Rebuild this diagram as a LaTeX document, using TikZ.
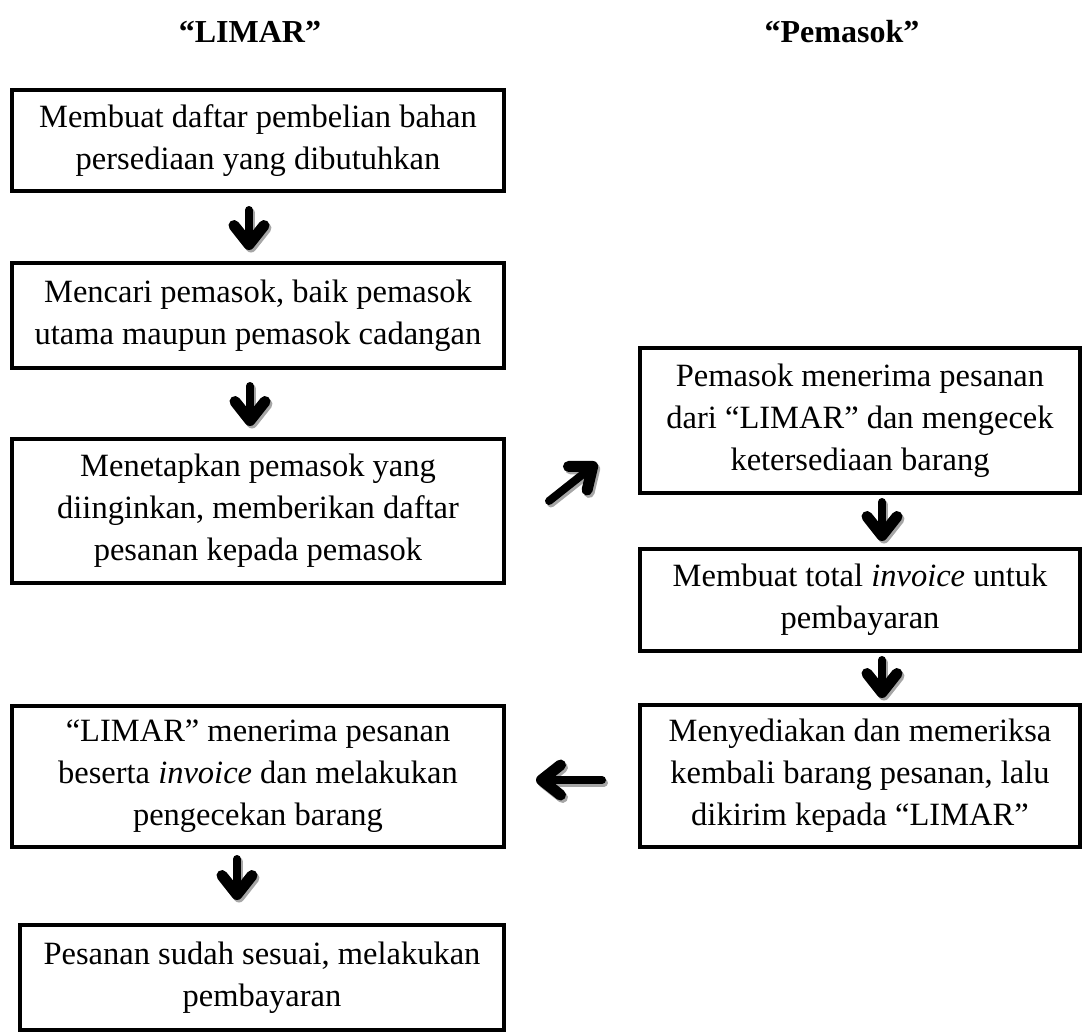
\documentclass[tikz,border=0pt]{standalone}
\usepackage{fontspec}
\setmainfont{Liberation Serif}
\usetikzlibrary{arrows.meta}
\begin{document}
\begin{tikzpicture}[x=1pt,y=-1pt,
  box/.style={draw, line width=4.5pt, align=center, inner sep=0pt,
    font=\fontsize{32.5}{42}\selectfont},
  hdr/.style={font=\fontsize{32}{38}\selectfont\bfseries},
  arr/.style={line width=8pt, line cap=round,
    -{Straight Barb[length=19pt 0 0,width=30pt 0,line width=11pt 0,round]}},
  arrsh/.style={arr, draw=black!35, transform canvas={xshift=2pt,yshift=-2.5pt}}]
\useasboundingbox (0,0) rectangle (1087,1036);

\node[hdr] (hL) at (250,32) {“LIMAR”};
\node[hdr] (hP) at (842,32) {“Pemasok”};

\node[box, minimum width=492pt, minimum height=101pt] (b1) at (258,140.5)
  {Membuat daftar pembelian bahan\\persediaan yang dibutuhkan};
\node[box, minimum width=492pt, minimum height=105pt] (b2) at (258,315.5)
  {Mencari pemasok, baik pemasok\\utama maupun pemasok cadangan};
\node[box, minimum width=492pt, minimum height=144pt] (b3) at (258,511)
  {Menetapkan pemasok yang\\diinginkan, memberikan daftar\\pesanan kepada pemasok};
\node[box, minimum width=492pt, minimum height=141pt] (b4) at (258,776.5)
  {“LIMAR” menerima pesanan\\beserta \textit{invoice} dan melakukan\\pengecekan barang};
\node[box, minimum width=484pt, minimum height=105pt] (b5) at (262,977.5)
  {Pesanan sudah sesuai, melakukan\\pembayaran};

\node[box, minimum width=440pt, minimum height=145pt] (r1) at (860,420.5)
  {Pemasok menerima pesanan\\dari “LIMAR” dan mengecek\\ketersediaan barang};
\node[box, minimum width=440pt, minimum height=102pt] (r2) at (860,600)
  {Membuat total \textit{invoice} untuk\\pembayaran};
\node[box, minimum width=440pt, minimum height=142pt] (r3) at (860,776)
  {Menyediakan dan memeriksa\\kembali barang pesanan, lalu\\dikirim kepada “LIMAR”};

\coordinate (a1s) at (249,210); \coordinate (a1e) at (249,250);
\coordinate (a2s) at (250,386); \coordinate (a2e) at (250,426);
\coordinate (a3s) at (549,501); \coordinate (a3e) at (597,463);
\coordinate (a4s) at (882,502); \coordinate (a4e) at (882,541);
\coordinate (a5s) at (882,660); \coordinate (a5e) at (882,698);
\coordinate (a6s) at (602,780); \coordinate (a6e) at (536,780);
\coordinate (a7s) at (237,859); \coordinate (a7e) at (237,900);

\foreach \s/\e in {a1s/a1e,a2s/a2e,a3s/a3e,a4s/a4e,a5s/a5e,a6s/a6e,a7s/a7e}{
  \draw[arrsh] (\s) -- (\e);
  \draw[arr] (\s) -- (\e);
}
\end{tikzpicture}
\end{document}
